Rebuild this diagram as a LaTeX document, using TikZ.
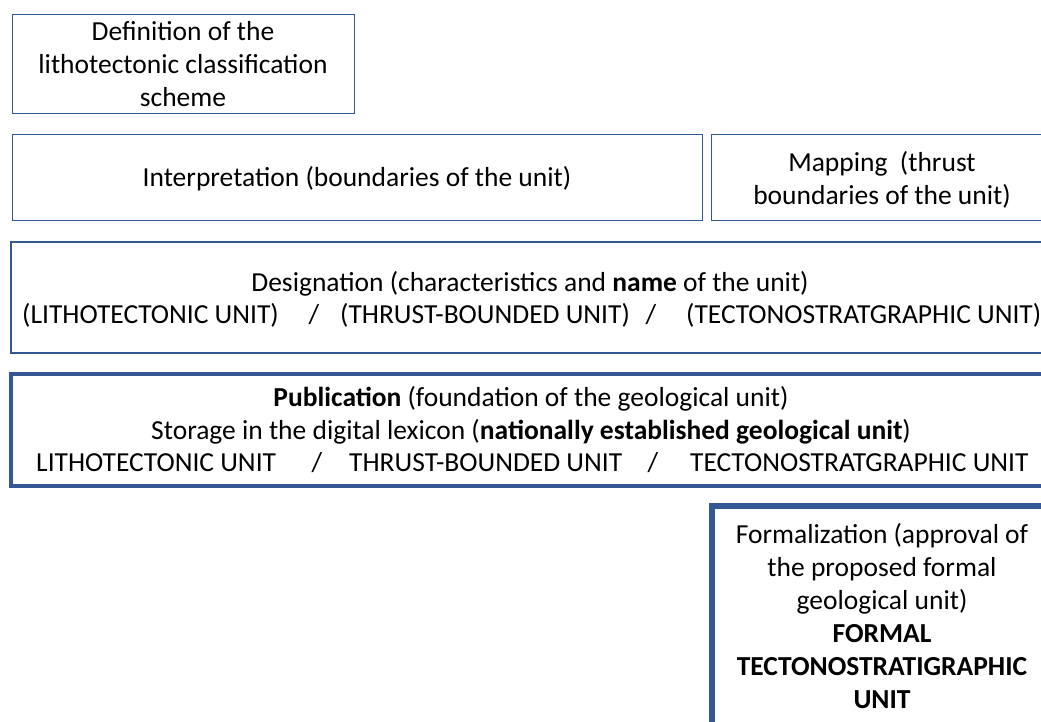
\documentclass[tikz,border=0pt]{standalone}
\usepackage{fontspec}
\setmainfont{Carlito}
\definecolor{boxblue}{RGB}{52,87,150}
\tikzset{
  box/.style={draw=boxblue, fill=white, inner sep=0pt, anchor=north west},
  txt/.style={align=center, font=\fontsize{27.5}{33}\selectfont, inner sep=0pt},
  seg/.style={font=\fontsize{27.5}{33}\selectfont, inner sep=0pt, anchor=base west},
  sl/.style={font=\fontsize{27.5}{33}\selectfont, inner sep=0pt, anchor=base},
}
\begin{document}
\begin{tikzpicture}[x=1pt,y=-1pt]
\useasboundingbox (0,0) rectangle (1041,722);
\clip (0,0) rectangle (1041,722);
% boxes
\node[box, line width=1.3pt, minimum width=342pt, minimum height=99pt] (defbox) at (12,14) {};
\node[box, line width=1.3pt, minimum width=690pt, minimum height=86pt] (intbox) at (12,134) {};
\node[box, line width=1.3pt, minimum width=342pt, minimum height=86pt] (mapbox) at (711,134) {};
\node[box, line width=2.2pt, minimum width=1042pt, minimum height=111pt] (desbox) at (10,241) {};
\node[box, line width=4pt, minimum width=1044pt, minimum height=112pt] (pubbox) at (9,372) {};
\node[box, line width=6pt, minimum width=346pt, minimum height=240pt] (formbox) at (709,503) {};
% texts
\node[txt] (deftxt) at (183,64.5) {Definition of the\\lithotectonic classification\\scheme};
\node[txt] (inttxt) at (357,179) {Interpretation (boundaries of the unit)};
\node[txt] (maptxt) at (882,179.5) {Mapping\ \ (thrust\\boundaries of the unit)};
\node[txt] (destxt) at (530,284) {Designation (characteristics and \textbf{name} of the unit)};
\node[seg] (des1) at (22,323) {(LITHOTECTONIC UNIT)};
\node[sl] (dessl1) at (314,323) {/};
\node[seg] (des2) at (340,323) {(THRUST-BOUNDED UNIT)};
\node[sl] (dessl2) at (651,323) {/};
\node[seg] (des3) at (686,323) {(TECTONOSTRATGRAPHIC UNIT)};
\node[txt] (pubtxt) at (531,415.5) {\textbf{Publication} (foundation of the geological unit)\\Storage in the digital lexicon (\textbf{nationally established geological unit})};
\node[seg] (pub1) at (36,471) {LITHOTECTONIC UNIT};
\node[sl] (pubsl1) at (317,471) {/};
\node[seg] (pub2) at (349,471) {THRUST-BOUNDED UNIT};
\node[sl] (pubsl2) at (653,471) {/};
\node[seg] (pub3) at (690,471) {TECTONOSTRATGRAPHIC UNIT};
\node[txt] (formtxt) at (882,616) {Formalization (approval of\\the proposed formal\\geological unit)\\\textbf{FORMAL}\\\textbf{TECTONOSTRATIGRAPHIC}\\\textbf{UNIT}};
\end{tikzpicture}
\end{document}
